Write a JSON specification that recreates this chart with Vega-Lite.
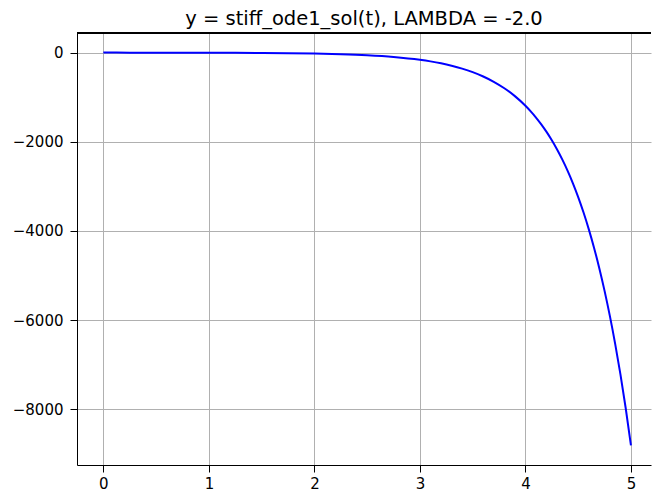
{
  "$schema": "https://vega.github.io/schema/vega-lite/v6.json",
  "width": 574,
  "height": 432,
  "autosize": {"type": "none"},
  "padding": {"left": 77, "top": 33, "right": 1, "bottom": 31},
  "title": {
    "text": "y = stiff_ode1_sol(t), LAMBDA = -2.0",
    "anchor": "middle",
    "frame": "group",
    "font": "DejaVu Sans",
    "fontSize": 19.5,
    "fontWeight": "normal",
    "color": "black",
    "offset": 3
  },
  "config": {
    "view": {"stroke": null},
    "axis": {
      "labelFont": "DejaVu Sans",
      "labelFontSize": 15,
      "labelColor": "black",
      "domainColor": "black",
      "domainWidth": 1,
      "tickColor": "black",
      "tickWidth": 1,
      "tickSize": 7,
      "gridColor": "#b0b0b0",
      "gridWidth": 1,
      "gridOpacity": 1,
      "title": null
    }
  },
  "data": {
    "values": [
      {"t": 0.0, "y": 0.0},
      {"t": 0.25, "y": -0.26},
      {"t": 0.5, "y": -0.69},
      {"t": 0.75, "y": -1.39},
      {"t": 1.0, "y": -2.56},
      {"t": 1.25, "y": -4.47},
      {"t": 1.5, "y": -7.63},
      {"t": 1.75, "y": -12.85},
      {"t": 2.0, "y": -21.4},
      {"t": 2.25, "y": -35.6},
      {"t": 2.5, "y": -59.0},
      {"t": 2.75, "y": -97.5},
      {"t": 3.0, "y": -161.0},
      {"t": 3.1, "y": -196.7},
      {"t": 3.2, "y": -240.3},
      {"t": 3.3, "y": -293.6},
      {"t": 3.4, "y": -358.7},
      {"t": 3.5, "y": -438.3},
      {"t": 3.6, "y": -535.4},
      {"t": 3.7, "y": -654.0},
      {"t": 3.8, "y": -798.9},
      {"t": 3.9, "y": -975.8},
      {"t": 4.0, "y": -1192.0},
      {"t": 4.05, "y": -1317.4},
      {"t": 4.1, "y": -1456.0},
      {"t": 4.15, "y": -1609.2},
      {"t": 4.2, "y": -1778.4},
      {"t": 4.25, "y": -1965.5},
      {"t": 4.3, "y": -2172.4},
      {"t": 4.35, "y": -2400.8},
      {"t": 4.4, "y": -2653.2},
      {"t": 4.45, "y": -2932.4},
      {"t": 4.5, "y": -3240.8},
      {"t": 4.55, "y": -3581.7},
      {"t": 4.6, "y": -3958.4},
      {"t": 4.65, "y": -4374.8},
      {"t": 4.7, "y": -4834.8},
      {"t": 4.75, "y": -5343.6},
      {"t": 4.8, "y": -5905.6},
      {"t": 4.85, "y": -6526.8},
      {"t": 4.9, "y": -7213.2},
      {"t": 4.95, "y": -7971.6},
      {"t": 5.0, "y": -8810.0}
    ]
  },
  "layer": [
    {
      "mark": {"type": "line", "color": "#0000ff", "strokeWidth": 2, "interpolate": "monotone"},
      "encoding": {
        "x": {
          "field": "t",
          "type": "quantitative",
          "scale": {"domain": [-0.25, 5.19], "nice": false, "zero": false},
          "axis": {"values": [0, 1, 2, 3, 4, 5], "format": "d", "grid": true, "labelPadding": 4}
        },
        "y": {
          "field": "y",
          "type": "quantitative",
          "scale": {"domain": [-9250, 440], "nice": false, "zero": false},
          "axis": {"values": [0, -2000, -4000, -6000, -8000], "format": "d", "grid": true, "labelPadding": 7}
        }
      }
    },
    {
      "mark": {"type": "rule", "color": "black", "strokeWidth": 1},
      "encoding": {"y": {"datum": 440}}
    }
  ]
}
